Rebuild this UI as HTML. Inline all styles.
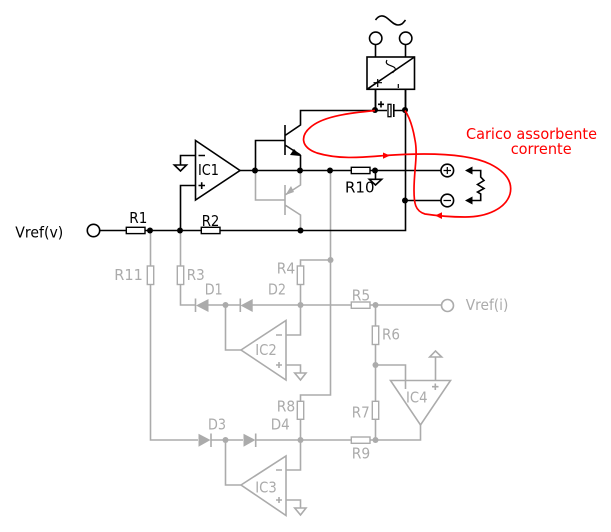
<!DOCTYPE html>
<html><head><meta charset="utf-8"><style>
html,body{margin:0;padding:0;background:#fff;width:611px;height:532px;overflow:hidden}
svg{display:block}
text{font-family:"DejaVu Sans","Liberation Sans",sans-serif;font-size:15px}
.k{fill:none;stroke:#000;stroke-width:1.6}
.g{fill:none;stroke:#ababab;stroke-width:1.6}
.r{fill:#fff;stroke:#ababab;stroke-width:1.4}
.rk{fill:#fff;stroke:#000;stroke-width:1.4}
.gt{fill:#ababab}
.kt{fill:#000}
.rt{fill:#f00}
</style></head><body>
<svg width="611" height="532" viewBox="0 0 611 532" xmlns="http://www.w3.org/2000/svg">
<!-- gray layer -->
<g>
<path class="g" d="M150.5 230V440H198M210.5 440H243M255.5 440H351M370 440H420.5V425"/>
<path class="g" d="M180.5 230V305H196M208 305H240M252 305H351M370 305H441"/>
<path class="g" d="M225.5 305V350H241M225.5 440V485H241"/>
<path class="g" d="M300.5 305V260H330.5M330.5 170V395H300.5V440"/>
<path class="g" d="M300.5 305V335H286M286 365H300.5V373M300.5 440V470H286M286 500H300.5V508"/>
<path class="g" d="M375.5 305V440M375.5 365H405.5V389M435.5 380V357"/>
<path class="g" d="M255.5 170V200H285M285 185V215M285 195L300.5 185V170M285 205L300.5 215V230"/>
<path class="g" d="M241 350L286 320.5V380ZM241 485L286 456V515.5Z"/>
<path class="g" d="M390.5 380.5H450.5L420.5 425Z"/>
<path class="g" d="M294.7 373H306L300.5 380ZM294.7 508H306L300.5 515ZM429.7 357H441.7L435.5 351Z"/>
<path class="g" d="M276 335H282M276 365H282M279 362V368M276 470H282M276 500H282M279 497V503M432 386.7H438.5M435.3 383.5V390"/>
<circle class="g" cx="447.5" cy="305.5" r="6"/>
<path class="gt" d="M208.5 299V312L196 305.5ZM252.7 299V312L240.5 305.5ZM198.5 433.7V446.7L210.5 440ZM243.5 433.7V446.7L255.5 440ZM285.5 195L291 186 294 192Z"/>
<path class="g" d="M195.5 298.5V312M240.3 298.5V312M211 433.5V447M255.7 433.5V447"/>
<rect class="r" x="147.3" y="266" width="6.4" height="18.5"/>
<rect class="r" x="177.3" y="266" width="6.4" height="18.5"/>
<rect class="r" x="297.3" y="266" width="6.4" height="18.5"/>
<rect class="r" x="297.3" y="401.3" width="6.4" height="18"/>
<rect class="r" x="372.3" y="326" width="6.4" height="18.5"/>
<rect class="r" x="372.3" y="401.3" width="6.4" height="18"/>
<rect class="r" x="351.3" y="302" width="18.7" height="6.3"/>
<rect class="r" x="351.3" y="437" width="18.7" height="6.3"/>
<g class="gt">
<circle cx="225.5" cy="305" r="3"/><circle cx="300.5" cy="305" r="3"/><circle cx="330.5" cy="260" r="3"/>
<circle cx="375.5" cy="305" r="3"/><circle cx="375.5" cy="365" r="3"/><circle cx="375.5" cy="440" r="3"/>
<circle cx="225.5" cy="440" r="3"/><circle cx="300.5" cy="440" r="3"/>
<text x="114.3" y="280" textLength="28.5" lengthAdjust="spacingAndGlyphs">R11</text>
<text x="186.7" y="280" textLength="18" lengthAdjust="spacingAndGlyphs">R3</text>
<text x="276.7" y="273.5" textLength="18.5" lengthAdjust="spacingAndGlyphs">R4</text>
<text x="204.7" y="294.5" textLength="18" lengthAdjust="spacingAndGlyphs">D1</text>
<text x="268" y="294.5" textLength="18" lengthAdjust="spacingAndGlyphs">D2</text>
<text x="351.7" y="300.5" textLength="18.5" lengthAdjust="spacingAndGlyphs">R5</text>
<text x="382" y="339.5" textLength="18" lengthAdjust="spacingAndGlyphs">R6</text>
<text x="351.7" y="417.5" textLength="18" lengthAdjust="spacingAndGlyphs">R7</text>
<text x="276.7" y="411.7" textLength="18.5" lengthAdjust="spacingAndGlyphs">R8</text>
<text x="351.7" y="458.5" textLength="18.5" lengthAdjust="spacingAndGlyphs">R9</text>
<text x="208" y="429.5" textLength="18" lengthAdjust="spacingAndGlyphs">D3</text>
<text x="270.7" y="429.5" textLength="19" lengthAdjust="spacingAndGlyphs">D4</text>
<text x="255.3" y="355" textLength="21.5" lengthAdjust="spacingAndGlyphs">IC2</text>
<text x="255.3" y="492.5" textLength="21.5" lengthAdjust="spacingAndGlyphs">IC3</text>
<text x="406" y="402.7" textLength="21.5" lengthAdjust="spacingAndGlyphs">IC4</text>
<text x="465.7" y="310" textLength="42.7" lengthAdjust="spacingAndGlyphs">Vref(i)</text>
</g>
</g>
<!-- black layer -->
<path class="k" d="M99.5 230.5H405.5V89M300.5 155V170M240 170.5H351M370 170.5H441M405.5 200.5H441"/>
<path class="k" d="M195.5 140.5V200L240 170.5Z"/>
<path class="k" d="M195.5 155.5H180.5V165M174.3 165H186.5L180.5 171ZM195.5 185.5H180.5V230"/>
<path class="k" d="M198.5 155.5H205M198.5 185.5H205M201.7 182.3V189"/>
<path class="k" d="M255.5 170V140.5H285M285 125V155M285 135.5L300.5 125V110.5H375.5V89M285 145L300.5 155"/>
<path class="kt" d="M300.5 156L294 149 290 155Z"/>
<path class="k" d="M375.5 110.5H387M394 110.5H405.5"/>
<rect x="388" y="104.3" width="3" height="12.4" fill="#fff" stroke="#000" stroke-width="1.3"/>
<path class="k" d="M393.8 104V117M378 104.3H384M381 101.3V107.5"/>
<rect x="367" y="57" width="47.5" height="32.3" fill="#fff" stroke="#000" stroke-width="1.6"/>
<path class="k" d="M367 89.3L414.5 57M375.5 44.5V57M405.5 44.5V57M375.5 89V110M405.5 89V110"/>
<path class="k" style="stroke-width:1.2" d="M373.5 82.7H382M377.7 79V87M398.3 84V88M387 60C384 65 391 65 394.5 67.5C397 70 393 71.5 392.5 73"/>
<path class="k" d="M375.5 20C379 15 383 15 387 18S394 25 398 25 403 23 405.5 20"/>
<circle class="k" cx="375.7" cy="38.3" r="6.2"/>
<circle class="k" cx="405.7" cy="38.3" r="6.2"/>
<circle class="k" cx="93.5" cy="230.5" r="6.2"/>
<circle cx="447.3" cy="170.5" r="6.3" fill="#fff" stroke="#000" stroke-width="1.6"/>
<circle cx="447.3" cy="200.5" r="6.3" fill="#fff" stroke="#000" stroke-width="1.6"/>
<path class="k" style="stroke-width:1.2" d="M443.5 170.5H451M447.3 167V174M443.5 200.5H451"/>
<rect class="rk" x="126.3" y="227.3" width="18.7" height="6.3"/>
<rect class="rk" x="201.3" y="227.3" width="18.7" height="6.3"/>
<rect class="rk" x="351.3" y="167.3" width="18.7" height="6.3"/>
<path class="k" d="M375.5 170.5V179.3M369.3 179.3H381.7L375.5 185Z"/>
<path class="k" d="M472 170.5H480.7V177L484 180.5 477.5 184.5 484 188.5 477.5 192 480.7 194V200.5H472"/>
<path class="kt" d="M465 170.5L472.5 166.5V174.5ZM465 200.5L472.5 196.5V204.5Z"/>
<g class="kt">
<circle cx="150" cy="230.5" r="3"/><circle cx="180" cy="230.5" r="3"/><circle cx="300.5" cy="230.5" r="3"/>
<circle cx="255" cy="170.5" r="3"/><circle cx="300" cy="170.5" r="3"/><circle cx="330" cy="170.5" r="3"/>
<circle cx="375" cy="170.5" r="3"/><circle cx="405" cy="200.5" r="3"/>
<circle cx="375" cy="110" r="3"/><circle cx="405" cy="110" r="3"/>
<text x="15.3" y="237.5" textLength="48" lengthAdjust="spacingAndGlyphs">Vref(v)</text>
<text x="129.3" y="223" textLength="18" lengthAdjust="spacingAndGlyphs">R1</text>
<text x="201.7" y="226" textLength="17.7" lengthAdjust="spacingAndGlyphs">R2</text>
<text x="198" y="175" textLength="21" lengthAdjust="spacingAndGlyphs">IC1</text>
<text x="345" y="192.7" textLength="29.5" lengthAdjust="spacingAndGlyphs">R10</text>
</g>
<!-- red -->
<path fill="none" stroke="#f00" stroke-width="1.7" d="M375 110.5C350 113 325 116 312 126C300 135 300 147 317 153C340 160 365 157 385 155.5C420 153 465 152 490 164C506 172 513 182 510 194C506 208 488 217 465 217C450 217 435 215.5 425 214C415 211 414 203 414 190C414 170 418 155 415 140C413 128 410 118 405 110.5"/>
<path class="rt" d="M390 155.5L383 152.5V158.8ZM435 215.5L442 212.3V219Z"/>
<text class="rt" x="466" y="139" textLength="131" lengthAdjust="spacingAndGlyphs">Carico assorbente</text>
<text class="rt" x="510.7" y="154" textLength="61" lengthAdjust="spacingAndGlyphs">corrente</text>
</svg>
</body></html>
